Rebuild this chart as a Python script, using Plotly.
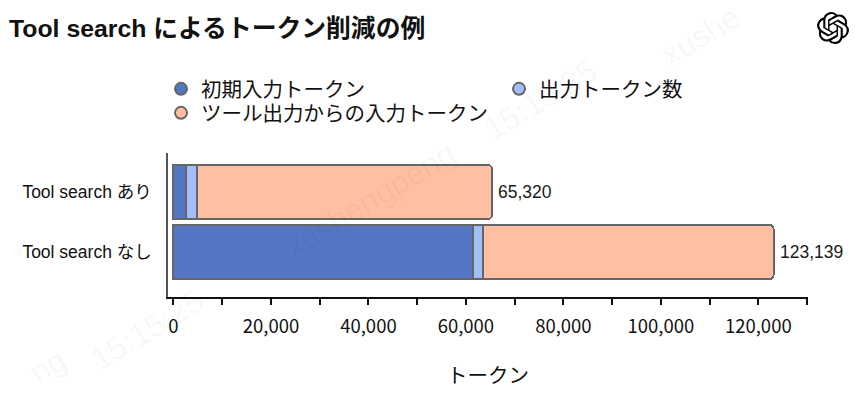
import plotly.graph_objects as go

categories = ["Tool search なし", "Tool search あり"]
series_names = ["初期入力トークン", "出力トークン数", "ツール出力からの入力トークン"]
initial_tokens = [61400, 2600]
output_tokens = [2200, 2200]
tool_input_tokens = [59539, 60520]
totals = [123139, 65320]
colors = ["#5477C4", "#A3BFFA", "#FFBFA3"]
x_tick_values = list(range(0, 130001, 10000))
x_tick_labels = [f"{v:,}" if v % 20000 == 0 and v < 130000 else "" for v in x_tick_values]

W, H = 855, 395
L, R, T, B = 168, 47, 153, 98
CJK = "Liberation Sans, Noto Sans CJK JP, sans-serif"
TICK = "Liberation Sans Narrow, Noto Sans CJK JP, sans-serif"
EDGE = "#666666"

fig = go.Figure()
for name, vals, col in zip(series_names, [initial_tokens, output_tokens, tool_input_tokens], colors):
    fig.add_bar(y=categories, x=vals, orientation="h", name=name, width=0.9, showlegend=False,
                marker=dict(color=col, line=dict(color=EDGE, width=2)))
for i, (name, col) in enumerate(zip(series_names, colors)):
    fig.add_scatter(x=[None], y=[None], mode="markers", name=name, legend="legend2" if i == 2 else "legend",
                    marker=dict(symbol="circle", size=15, color=col, line=dict(color="#666666", width=1.5)))

def px(x):
    return (x - L) / (W - L - R)
def py(y):
    return 1 - (y - T) / (H - T - B)

for total, cat in zip(totals, categories):
    fig.add_annotation(x=total, y=cat, xref="x", yref="y", text=f"{total:,}", showarrow=False, xanchor="left",
                       xshift=4, font=dict(family=CJK, size=17.5, color="#1a1a1a"))

for x, y, s in [(48, 366, "ng"), (147, 330, "15:15:25"), (370, 200, "xushengpeng"),
                (540, 100, "15:15:25"), (700, 36, "xushe")]:
    fig.add_annotation(xref="paper", yref="paper", x=px(x), y=py(y), text=s, showarrow=False,
                       xanchor="center", yanchor="middle", textangle=-31,
                       font=dict(family="Liberation Sans", size=32, color="rgba(0,0,0,0.04)"))

fig.add_annotation(xref="paper", yref="paper", x=px(7), y=py(28), xanchor="left", yanchor="middle",
                   text="<b>Tool search によるトークン削減の例</b>", showarrow=False,
                   font=dict(family=CJK, size=24.8, color="#111111"))

logo = ("data:image/svg+xml;utf8,<svg xmlns='http://www.w3.org/2000/svg' viewBox='0 0 24 24'><path fill='black' d='"
        "M22.2819 9.8211a5.9847 5.9847 0 0 0-.5157-4.9108 6.0462 6.0462 0 0 0-6.5098-2.9A6.0651 6.0651 0 0 0 4.9807 4.1818a5.9847 5.9847 0 0 0-3.9977 2.9 6.0462 6.0462 0 0 0 .7427 7.0966 5.98 5.98 0 0 0 .511 4.9107 6.051 6.051 0 0 0 6.5146 2.9001A5.9847 5.9847 0 0 0 13.2599 24a6.0557 6.0557 0 0 0 5.7718-4.2058 5.9894 5.9894 0 0 0 3.9977-2.9001 6.0557 6.0557 0 0 0-.7475-7.0729zm-9.022 12.6081a4.4755 4.4755 0 0 1-2.8764-1.0408l.1419-.0804 4.7783-2.7582a.7948.7948 0 0 0 .3927-.6813v-6.7369l2.02 1.1686a.071.071 0 0 1 .038.052v5.5826a4.504 4.504 0 0 1-4.4945 4.4944zm-9.6607-4.1254a4.4708 4.4708 0 0 1-.5346-3.0137l.142.0852 4.783 2.7582a.7712.7712 0 0 0 .7806 0l5.8428-3.3685v2.3324a.0804.0804 0 0 1-.0332.0615L9.74 19.9502a4.4992 4.4992 0 0 1-6.1408-1.6464zM2.3408 7.8956a4.485 4.485 0 0 1 2.3655-1.9728V11.6a.7664.7664 0 0 0 .3879.6765l5.8144 3.3543-2.0201 1.1685a.0757.0757 0 0 1-.071 0l-4.8303-2.7865A4.504 4.504 0 0 1 2.3408 7.872zm16.5963 3.8558L13.1038 8.364 15.1192 7.2a.0757.0757 0 0 1 .071 0l4.8303 2.7913a4.4944 4.4944 0 0 1-.6765 8.1042v-5.6772a.79.79 0 0 0-.407-.667zm2.0107-3.0231l-.142-.0852-4.7735-2.7818a.7759.7759 0 0 0-.7854 0L9.409 9.2297V6.8974a.0662.0662 0 0 1 .0284-.0615l4.8303-2.7866a4.4992 4.4992 0 0 1 6.6802 4.66zM8.3065 12.863l-2.02-1.1638a.0804.0804 0 0 1-.038-.0567V6.0742a4.4992 4.4992 0 0 1 7.3757-3.4537l-.142.0805L8.704 5.459a.7948.7948 0 0 0-.3927.6813zm1.0976-2.3654l2.602-1.4998 2.6069 1.4998v2.9994l-2.5974 1.4997-2.6067-1.4997Z"
        "'/></svg>")
fig.add_layout_image(source=logo, xref="paper", yref="paper", x=px(817), y=py(12), sizex=32/(W-L-R), sizey=32/(H-T-B),
                     xanchor="left", yanchor="top", layer="above", sizing="contain")

legend_common = dict(orientation="h", x=px(161), xanchor="left", yanchor="middle", traceorder="normal",
                     font=dict(family=CJK, size=20.5, color="#111111"), bgcolor="rgba(0,0,0,0)", itemsizing="constant")

fig.update_layout(
    width=W, height=H, autosize=False, margin=dict(l=L, r=R, t=T, b=B),
    paper_bgcolor="white", plot_bgcolor="white",
    barmode="stack", barcornerradius=4,
    font=dict(family=CJK, color="#111111"),
    legend=dict(y=py(89), entrywidth=293, entrywidthmode="pixels", **legend_common),
    legend2=dict(y=py(113), **legend_common),
    xaxis=dict(range=[-1127, 130200], tickmode="array", tickvals=x_tick_values, ticktext=x_tick_labels,
               ticks="outside", ticklen=6, tickwidth=1.5, tickcolor="#111111",
               showgrid=False, zeroline=False, showline=True, linecolor="#111111", linewidth=1.5,
               tickfont=dict(family=TICK, size=18.5, color="#111111"), ticklabelstandoff=6,
               title=dict(text="トークン", font=dict(family=CJK, size=20.5, color="#111111"), standoff=32)),
    yaxis=dict(type="category", categoryorder="array", categoryarray=categories, range=[-0.75, 1.65],
               ticks="", showgrid=False, zeroline=False, showline=True, linecolor="#555555", linewidth=1.5,
               tickfont=dict(family=CJK, size=17.5, color="#111111"), ticklabelstandoff=11),
)
fig.write_html("out.html", post_script="document.body.style.margin='0';", config={"displayModeBar": False})
